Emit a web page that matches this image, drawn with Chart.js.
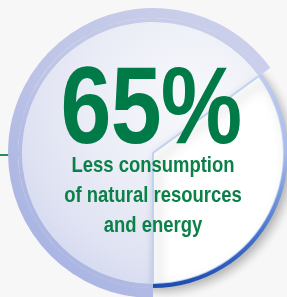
<!DOCTYPE html>
<html lang="en">
<head>
<meta charset="UTF-8">
<title>65% Less consumption</title>
<script src="https://cdn.jsdelivr.net/npm/chart.js"></script>
<style>
  html, body { margin: 0; padding: 0; width: 287px; height: 297px; overflow: hidden; background: #f7f7f7; }
  #greenLine { position: absolute; left: 0; top: 154px; width: 20px; height: 2px; background: #2b8c5a; }
  #chartBox { position: absolute; left: 8px; top: 8px; width: 290px; height: 290px; }
  /* no condensed face installed, so squeeze Liberation Sans horizontally */
  .label { position: absolute; text-align: center; color: #007a47; white-space: nowrap;
           font-family: "Liberation Sans", Arial, sans-serif; font-weight: bold; transform-origin: 50% 0; }
  #bigValue { left: 0; width: 302px; top: 51px; font-size: 109px; line-height: 109px; transform: scaleX(0.84); letter-spacing: -1px; }
  #caption { left: 0; width: 306px; top: 150px; font-size: 22.5px; line-height: 30px; color: #0b8048; transform: scaleX(0.82); }
</style>
</head>
<body>
<div id="greenLine"></div>
<div id="chartBox"><canvas id="pieChart"></canvas></div>
<div class="label" id="bigValue">65%</div>
<div class="label" id="caption">Less consumption<br>of natural resources<br>and energy</div>

<script>
// data
const categories = ['Less consumption', 'Remaining'];
const shareValues = [65, 35];

// gradients, built once the chart area is known
function bandGradient(ctx, area) {
  const g = ctx.createLinearGradient(area.right, area.top, area.left, area.bottom);
  g.addColorStop(0, '#cfd3ec');
  g.addColorStop(0.55, '#bec4e6');
  g.addColorStop(0.85, '#aab5e3');
  g.addColorStop(1, '#86a6e6');
  return g;
}
function borderGradient(ctx, area) {
  const g = ctx.createLinearGradient(0, area.top, 0, area.bottom);
  g.addColorStop(0.15, '#c9d0ec');
  g.addColorStop(0.5, '#a8bbea');
  g.addColorStop(0.8, '#3f6fcb');
  g.addColorStop(1, '#1544aa');
  return g;
}
function fillGradient(ctx, area) {
  const cx = (area.left + area.right) / 2, cy = (area.top + area.bottom) / 2;
  const g = ctx.createRadialGradient(cx + 40, cy - 50, 0, cx + 40, cy - 50, 210);
  g.addColorStop(0, '#f8f9fc');
  g.addColorStop(0.45, '#eceef7');
  g.addColorStop(0.8, '#dfe2f2');
  g.addColorStop(1, '#d2d8f0');
  return g;
}

function scripted(builders) {
  return function (c) {
    const area = c.chart.chartArea;
    if (!area) return '#dde0f0';
    const b = builders[c.dataIndex];
    return typeof b === 'function' ? b(c.chart.ctx, area) : b;
  };
}

// soft shadow under the pie
const shadowPlugin = {
  id: 'sliceShadow',
  beforeDatasetDraw(chart, args) {
    if (args.index !== 2) return;
    const ctx = chart.ctx;
    ctx.save();
    ctx.shadowColor = 'rgba(0, 0, 0, 0.33)';
    ctx.shadowBlur = 12;
    ctx.shadowOffsetX = 5;
    ctx.shadowOffsetY = 5;
  },
  afterDatasetDraw(chart, args) {
    if (args.index !== 2) return;
    chart.ctx.restore();
  }
};

new Chart(document.getElementById('pieChart'), {
  type: 'doughnut',
  data: {
    labels: categories,
    datasets: [
      { // outer band, only on the large slice
        data: shareValues,
        weight: 10,
        backgroundColor: scripted([bandGradient, 'rgba(0,0,0,0)']),
        borderWidth: 0
      },
      { // band / blue rim of the small slice
        data: shareValues,
        weight: 4,
        backgroundColor: scripted([bandGradient, borderGradient]),
        borderWidth: 0
      },
      { // main fill
        data: shareValues,
        weight: 131,
        backgroundColor: scripted([fillGradient, '#ffffff']),
        borderColor: ['rgba(0,0,0,0)', '#bfd2f2'],
        borderWidth: [0, 2],
        hoverBorderWidth: [0, 2]
      }
    ]
  },
  options: {
    responsive: true,
    maintainAspectRatio: false,
    animation: false,
    cutout: 0,
    rotation: 180,
    layout: { padding: 0 },
    plugins: {
      legend: { display: false },
      tooltip: { enabled: false }
    },
    events: []
  },
  plugins: [shadowPlugin]
});
</script>
</body>
</html>
